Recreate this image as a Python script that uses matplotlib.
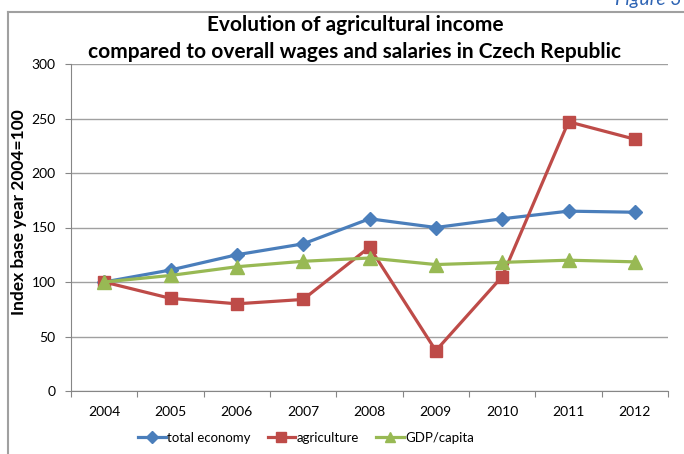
import matplotlib.pyplot as plt
import matplotlib.lines as mlines

plt.rcParams['font.family'] = ['Lato', 'DejaVu Sans']

# data
years = ['2004', '2005', '2006', '2007', '2008', '2009', '2010', '2011', '2012']
total_economy = [100, 111, 125, 135, 158, 150, 158, 165, 164]
agriculture = [100, 85, 80, 84, 132, 37, 105, 247, 231]
gdp_capita = [100, 106, 114, 119, 122, 116, 118, 120, 118.5]

fig = plt.figure(figsize=(6.84, 4.54), dpi=100)
ax = fig.add_axes([71 / 684, 1 - 391 / 454, 597 / 684, 327 / 454])

x = list(range(len(years)))
blue, red, green = '#4A7EBB', '#BE4B48', '#98B954'
ax.plot(x, total_economy, color=blue, lw=2.3, marker='D', ms=7.5, zorder=3)
ax.plot(x, agriculture, color=red, lw=2.3, marker='s', ms=9, zorder=3)
ax.plot(x, gdp_capita, color=green, lw=2.3, marker='^', ms=9.5, zorder=4)

ax.set_xlim(-0.5, len(years) - 0.5)
ax.set_ylim(0, 300)
ax.set_yticks(range(0, 301, 50))
ax.yaxis.grid(True, color='#A0A0A0', lw=1)
ax.set_axisbelow(True)

# category ticks sit between labels
ax.set_xticks([i - 0.5 for i in range(len(years) + 1)], minor=False)
ax.set_xticklabels([])
ax.set_xticks(x, minor=True)
ax.set_xticklabels(years, minor=True)
ax.tick_params(axis='x', which='major', length=4, color='#868686', direction='out')
ax.tick_params(axis='x', which='minor', length=0, pad=11, labelsize=10)
ax.tick_params(axis='y', length=4, color='#868686', labelsize=10, pad=7)

for side in ['top', 'right']:
    ax.spines[side].set_visible(False)
for side in ['left', 'bottom']:
    ax.spines[side].set_color('#868686')

fig.text(19 / 684, 1 - 212 / 454, 'Index base year 2004=100', rotation=90, ha='center',
         va='center', fontsize=12.5, fontweight='bold')

fig.text(355 / 684, 1 - 25 / 454, 'Evolution of agricultural income', ha='center', va='center',
         fontsize=15, fontweight='bold')
fig.text(355 / 684, 1 - 52 / 454, 'compared to overall wages and salaries in Czech Republic',
         ha='center', va='center', fontsize=15, fontweight='bold')

# legend below the axis
handles = [
    mlines.Line2D([], [], color=blue, lw=2.3, marker='D', ms=6),
    mlines.Line2D([], [], color=red, lw=2.3, marker='s', ms=7),
    mlines.Line2D([], [], color=green, lw=2.3, marker='^', ms=7.5),
]
fig.legend(handles, ['total economy', 'agriculture', 'GDP/capita'], loc='center',
           bbox_to_anchor=(306 / 684, 1 - 438 / 454), ncol=3, frameon=False, fontsize=9.5,
           handlelength=2.1, handletextpad=0.1, columnspacing=1.3)

# outer frame (top and left edges visible)
fig.add_artist(mlines.Line2D([8 / 684, 8 / 684], [0, 1 - 12 / 454], color='#A0A0A0', lw=1.5))
fig.add_artist(mlines.Line2D([8 / 684, 1], [1 - 12 / 454, 1 - 12 / 454], color='#A0A0A0', lw=1.5))
fig.text(682 / 684, 1 - 5 / 454, 'Figure 3', ha='right', va='baseline', fontsize=14,
         style='italic', color='#2E64B4')

fig.savefig('out.png', dpi=100)
